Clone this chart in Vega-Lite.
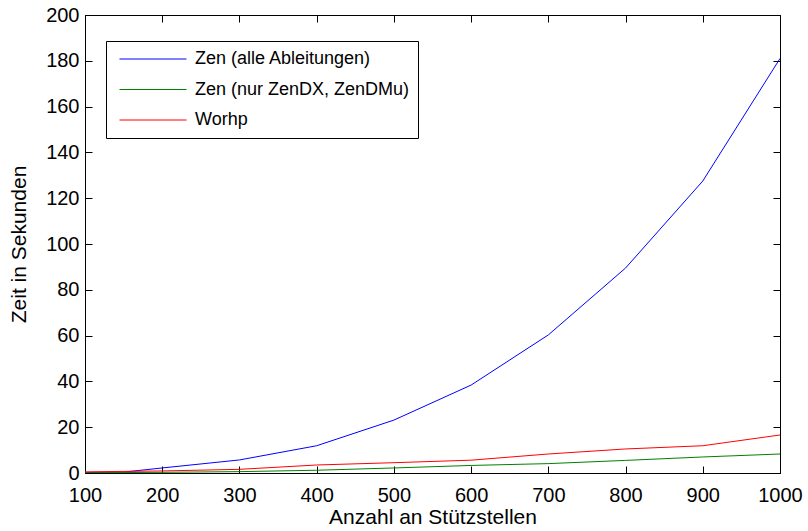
{
  "$schema": "https://vega.github.io/schema/vega-lite/v6.json",
  "width": 695,
  "height": 458,
  "autosize": {"type": "none"},
  "padding": {"left": 85, "top": 15, "right": 28, "bottom": 58},
  "background": "white",
  "config": {
    "font": "Liberation Sans",
    "view": {"stroke": "black", "strokeWidth": 1},
    "axis": {"grid": false, "domainColor": "black", "tickColor": "black", "tickWidth": 1, "labelColor": "black", "titleColor": "black", "labelFontSize": 20, "titleFontSize": 21, "titleFontWeight": "normal", "labelFont": "Liberation Sans", "titleFont": "Liberation Sans"}
  },
  "data": {"values": [
    {"n": 100, "t": 0.2, "s": "Zen (alle Ableitungen)"},
    {"n": 150, "t": 0.4, "s": "Zen (alle Ableitungen)"},
    {"n": 200, "t": 2.2, "s": "Zen (alle Ableitungen)"},
    {"n": 300, "t": 5.7, "s": "Zen (alle Ableitungen)"},
    {"n": 400, "t": 11.9, "s": "Zen (alle Ableitungen)"},
    {"n": 500, "t": 23.1, "s": "Zen (alle Ableitungen)"},
    {"n": 600, "t": 38.4, "s": "Zen (alle Ableitungen)"},
    {"n": 700, "t": 60.3, "s": "Zen (alle Ableitungen)"},
    {"n": 800, "t": 89.5, "s": "Zen (alle Ableitungen)"},
    {"n": 900, "t": 127.5, "s": "Zen (alle Ableitungen)"},
    {"n": 1000, "t": 181, "s": "Zen (alle Ableitungen)"},
    {"n": 100, "t": 0.1, "s": "Zen (nur ZenDX, ZenDMu)"},
    {"n": 200, "t": 0.3, "s": "Zen (nur ZenDX, ZenDMu)"},
    {"n": 300, "t": 0.6, "s": "Zen (nur ZenDX, ZenDMu)"},
    {"n": 400, "t": 1.2, "s": "Zen (nur ZenDX, ZenDMu)"},
    {"n": 500, "t": 2.2, "s": "Zen (nur ZenDX, ZenDMu)"},
    {"n": 600, "t": 3.3, "s": "Zen (nur ZenDX, ZenDMu)"},
    {"n": 700, "t": 4.1, "s": "Zen (nur ZenDX, ZenDMu)"},
    {"n": 800, "t": 5.5, "s": "Zen (nur ZenDX, ZenDMu)"},
    {"n": 900, "t": 7.0, "s": "Zen (nur ZenDX, ZenDMu)"},
    {"n": 1000, "t": 8.3, "s": "Zen (nur ZenDX, ZenDMu)"},
    {"n": 100, "t": 0.5, "s": "Worhp"},
    {"n": 200, "t": 0.9, "s": "Worhp"},
    {"n": 300, "t": 1.6, "s": "Worhp"},
    {"n": 400, "t": 3.5, "s": "Worhp"},
    {"n": 500, "t": 4.5, "s": "Worhp"},
    {"n": 600, "t": 5.6, "s": "Worhp"},
    {"n": 700, "t": 8.3, "s": "Worhp"},
    {"n": 800, "t": 10.5, "s": "Worhp"},
    {"n": 900, "t": 11.9, "s": "Worhp"},
    {"n": 1000, "t": 16.6, "s": "Worhp"}
  ]},
  "layer": [
    {
      "mark": {"type": "line", "strokeWidth": 1, "clip": true},
      "encoding": {
        "x": {"field": "n", "type": "quantitative", "scale": {"domain": [100, 1000], "nice": false, "zero": false},
              "axis": {"orient": "bottom", "values": [100,200,300,400,500,600,700,800,900,1000], "format": "d", "tickSize": -7, "labelPadding": 19, "title": "Anzahl an Stützstellen", "titlePadding": 1, "labelFlush": false}},
        "y": {"field": "t", "type": "quantitative", "scale": {"domain": [0, 200], "nice": false},
              "axis": {"orient": "left", "values": [0,20,40,60,80,100,120,140,160,180,200], "format": "d", "tickSize": -7, "labelPadding": 13, "title": "Zeit in Sekunden", "titlePadding": 16, "labelFlush": false}},
        "color": {"field": "s", "type": "nominal",
                  "scale": {"domain": ["Zen (alle Ableitungen)", "Zen (nur ZenDX, ZenDMu)", "Worhp"], "range": ["#0000ff", "#008000", "#ff0000"]},
                  "legend": {"title": null, "orient": "none", "legendX": 21, "legendY": 26, "strokeColor": "black", "fillColor": "white", "padding": 8, "symbolOffset": 5, "symbolType": "stroke", "symbolSize": 4489, "symbolStrokeWidth": 1, "labelFontSize": 18, "labelFont": "Liberation Sans", "labelColor": "black", "labelOffset": 8, "labelLimit": 400, "clipHeight": 20, "rowPadding": 10.5}}
      }
    },
    {
      "mark": {"type": "line", "opacity": 0},
      "encoding": {
        "x": {"field": "n", "type": "quantitative", "axis": {"orient": "top", "values": [100,200,300,400,500,600,700,800,900,1000], "tickSize": -7, "labels": false, "title": null}},
        "y": {"field": "t", "type": "quantitative", "axis": {"orient": "right", "values": [0,20,40,60,80,100,120,140,160,180,200], "tickSize": -7, "labels": false, "title": null}},
        "detail": {"field": "s"}
      }
    }
  ],
  "resolve": {"axis": {"x": "independent", "y": "independent"}}
}
